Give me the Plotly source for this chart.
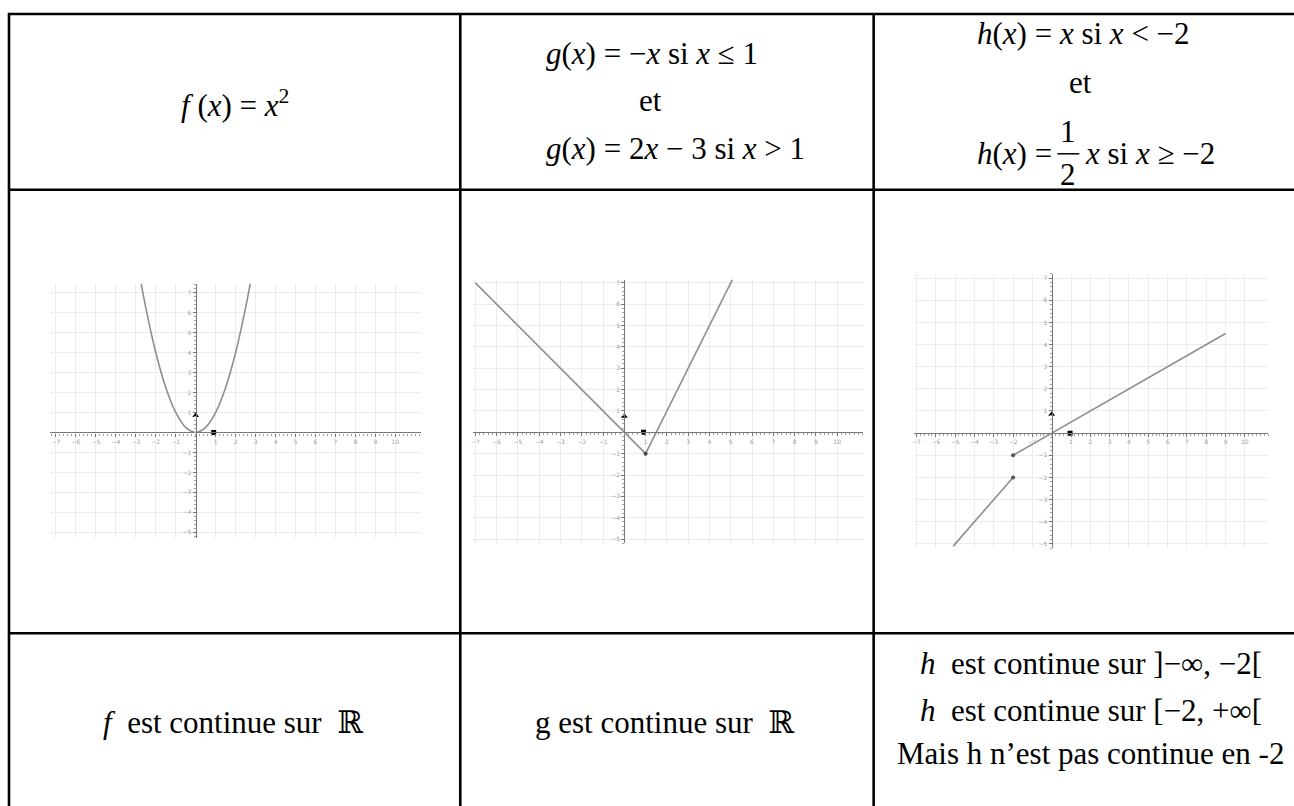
import plotly.graph_objects as go

W, H = 1294, 806

# f(x) = x^2 : points
f_x = [-2.8, -2.5, -2.0, -1.5, -1.0, -0.5, 0.0, 0.5, 1.0, 1.5, 2.0, 2.5, 2.75]
f_y = [7.84, 6.25, 4.0, 2.25, 1.0, 0.25, 0.0, 0.25, 1.0, 2.25, 4.0, 6.25, 7.56]

# g : deux segments
g1_x = [-7.0, 1.0]
g1_y = [7.0, -1.0]
g2_x = [1.0, 5.1]
g2_y = [-1.0, 7.2]

# h : deux segments
h1_x = [-5.1, -2.0]
h1_y = [-5.1, -2.0]
h2_x = [-2.0, 9.0]
h2_y = [-1.0, 4.5]

# points marqués
g_pts_x = [1.0]
g_pts_y = [-1.0]
h_pts_x = [-2.0, -2.0]
h_pts_y = [-1.0, -2.0]

# graduations
x_ticks = [-7, -6, -5, -4, -3, -2, -1, 1, 2, 3, 4, 5, 6, 7, 8, 9, 10]
y_ticks = [-5, -4, -3, -2, -1, 1, 2, 3, 4, 5, 6, 7]

# repères unité (triangle sur Oy, carré sur Ox)
unit_tri_y = [0.85, 0.75, 0.85]
unit_sq_x = [0.9, 0.9, 0.95]

GRAY = "#8e8e8e"
AXIS = "#777777"
GRID = "#ececec"
SERIF = "Liberation Serif, Times New Roman, DejaVu Serif, serif"

fig = go.Figure()


def px(x):
    return x / W


def py(y):
    return 1 - y / H


panels = [
    # (xrange, yrange, box en pixels)
    ([-7.3, 11.3], [-5.3, 7.45], (48, 283, 420, 538)),
    ([-7.1, 11.2], [-5.2, 7.15], (472, 279, 862, 543)),
    ([-7.15, 11.2], [-5.2, 7.2], (913, 273, 1268, 548)),
]

layout_axes = {}
for i, (xr, yr, box) in enumerate(panels):
    n = "" if i == 0 else str(i + 1)
    x0, y0, x1, y1 = box
    dx = [px(x0), px(x1)]
    dy = [py(y1), py(y0)]
    xpos = dy[0] + (0 - yr[0]) / (yr[1] - yr[0]) * (dy[1] - dy[0])
    ypos = dx[0] + (0 - xr[0]) / (xr[1] - xr[0]) * (dx[1] - dx[0])
    common = dict(showline=True, linecolor=AXIS, linewidth=1.2,
                  showgrid=True, gridcolor=GRID, gridwidth=1.2,
                  zeroline=False, ticks="outside", ticklen=3, tickcolor=AXIS,
                  tickfont=dict(size=6, color="#a0a0a0", family="DejaVu Sans"),
                  minor=dict(dtick=0.2, ticks="outside", ticklen=2,
                             tickcolor="#a0a0a0", showgrid=False),
                  anchor="free", fixedrange=True)
    layout_axes["xaxis" + n] = dict(domain=dx, range=xr, position=xpos,
                                    tickvals=x_ticks, **common)
    layout_axes["yaxis" + n] = dict(domain=dy, range=yr, position=ypos,
                                    tickvals=y_ticks, **common)

ax = [("x", "y"), ("x2", "y2"), ("x3", "y3")]

fig.add_trace(go.Scatter(x=f_x, y=f_y, mode="lines", line=dict(color=GRAY, width=1.6, shape="spline"),
                         xaxis="x", yaxis="y"))
fig.add_trace(go.Scatter(x=g1_x, y=g1_y, mode="lines", line=dict(color=GRAY, width=1.6),
                         xaxis="x2", yaxis="y2"))
fig.add_trace(go.Scatter(x=g2_x, y=g2_y, mode="lines", line=dict(color=GRAY, width=1.6),
                         xaxis="x2", yaxis="y2"))
fig.add_trace(go.Scatter(x=g_pts_x, y=g_pts_y, mode="markers", marker=dict(color="#444", size=4),
                         xaxis="x2", yaxis="y2"))
fig.add_trace(go.Scatter(x=h1_x, y=h1_y, mode="lines", line=dict(color=GRAY, width=1.6),
                         xaxis="x3", yaxis="y3"))
fig.add_trace(go.Scatter(x=h2_x, y=h2_y, mode="lines", line=dict(color=GRAY, width=1.6),
                         xaxis="x3", yaxis="y3"))
fig.add_trace(go.Scatter(x=h_pts_x, y=h_pts_y, mode="markers", marker=dict(color="#555", size=4),
                         xaxis="x3", yaxis="y3"))

for i, (xa, ya) in enumerate(ax):
    fig.add_trace(go.Scatter(x=[0], y=[unit_tri_y[i]], mode="markers",
                             marker=dict(symbol="triangle-up", color="black", size=6),
                             xaxis=xa, yaxis=ya))
    fig.add_trace(go.Scatter(x=[unit_sq_x[i]], y=[0], mode="markers",
                             marker=dict(symbol="square", color="black", size=5),
                             xaxis=xa, yaxis=ya))

# traits du tableau
lw = 2.6
for yy in [13, 189, 633]:
    fig.add_shape(type="line", xref="paper", yref="paper",
                  x0=px(6), x1=px(1310), y0=py(yy), y1=py(yy),
                  line=dict(color="black", width=lw))
for xx in [7, 459, 873]:
    fig.add_shape(type="line", xref="paper", yref="paper",
                  x0=px(xx), x1=px(xx), y0=py(12), y1=py(830),
                  line=dict(color="black", width=lw))
# barre de fraction 1/2
fig.add_shape(type="line", xref="paper", yref="paper",
              x0=px(1057), x1=px(1079), y0=py(153), y1=py(153),
              line=dict(color="black", width=1.5))

FS = 31


def txt(x, y, s, anchor="center", size=FS):
    fig.add_annotation(x=px(x), y=py(y), xref="paper", yref="paper", text=s,
                       showarrow=False, xanchor=anchor, yanchor="middle",
                       font=dict(family=SERIF, size=size, color="black"))


txt(233, 103, "<i>f</i> (<i>x</i>) = <i>x</i><sup>2</sup>")

txt(543, 53, "<i>g</i>(<i>x</i>) = −<i>x</i> si <i>x</i> ≤ 1", anchor="left")
txt(650, 100, "et")
txt(543, 148, "<i>g</i>(<i>x</i>) = 2<i>x</i> − 3 si <i>x</i> &gt; 1", anchor="left")

txt(975, 33, "<i>h</i>(<i>x</i>) = <i>x</i> si <i>x</i> &lt; −2", anchor="left")
txt(1080, 82, "et")
txt(975, 153, "<i>h</i>(<i>x</i>) =", anchor="left")
txt(1068, 131, "1")
txt(1068, 174, "2")
txt(1083, 153, "<i>x</i> si <i>x</i> ≥ −2", anchor="left")

txt(231, 722, "<i>f</i>  est continue sur  ℝ")
txt(664, 722, "g est continue sur  ℝ")
txt(1091, 663, "<i>h</i>  est continue sur ]−∞, −2[")
txt(1091, 710, "<i>h</i>  est continue sur [−2, +∞[")
txt(1090, 753, "Mais h n’est pas continue en -2")

fig.update_layout(width=W, height=H, margin=dict(l=0, r=0, t=0, b=0),
                  paper_bgcolor="white", plot_bgcolor="white",
                  showlegend=False, **layout_axes)

fig.write_html("out.html", config={"displayModeBar": False},
               post_script="document.body.style.margin='0px';")
